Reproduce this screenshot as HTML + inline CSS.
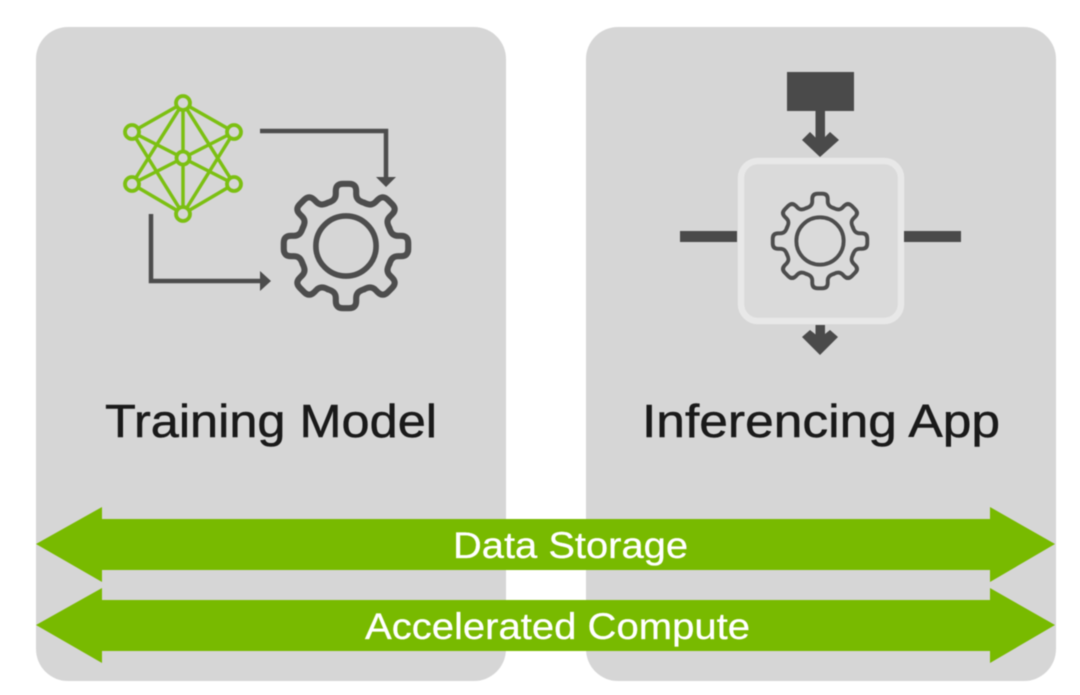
<!DOCTYPE html>
<html>
<head>
<meta charset="utf-8">
<style>
html,body{margin:0;padding:0;background:#fff;width:1080px;height:695px;overflow:hidden}
svg{display:block;filter:blur(0.5px)}
text{font-family:"Liberation Sans",sans-serif}
</style>
</head>
<body>
<svg width="1080" height="695" viewBox="0 0 1080 695" xmlns="http://www.w3.org/2000/svg">
<defs>
<path id="t" d="M-17.6 -42.5C-13 -44 -10 -46 -10 -51L-10 -54Q-10 -61 -3 -61L3 -61Q10 -61 10 -54L10 -51C10 -46 13 -44 17.6 -42.5" fill="none" stroke-linecap="round"/>
<g id="gear">
<use href="#t"/>
<use href="#t" transform="rotate(45)"/>
<use href="#t" transform="rotate(90)"/>
<use href="#t" transform="rotate(135)"/>
<use href="#t" transform="rotate(180)"/>
<use href="#t" transform="rotate(225)"/>
<use href="#t" transform="rotate(270)"/>
<use href="#t" transform="rotate(315)"/>
</g>
</defs>
<rect x="36" y="27" width="470" height="654" rx="32" fill="#d6d6d6"/>
<rect x="586" y="27" width="470" height="654" rx="32" fill="#d6d6d6"/>

<!-- network -->
<g stroke="#7cc012" stroke-width="3.5" fill="none">
<path d="M183 103L132 132M183 103L234 132M183 103L132 184M183 103L234 184M183 103V214M132 132L234 184M234 132L132 184M132 132L183 214M234 132L183 214M132 184L183 214M234 184L183 214"/>
<g fill="#d6d6d6" stroke-width="3.8">
<circle cx="183" cy="103" r="7"/><circle cx="132" cy="132" r="7"/><circle cx="234" cy="132" r="7"/>
<circle cx="132" cy="184" r="7"/><circle cx="234" cy="184" r="7"/><circle cx="183" cy="214" r="7"/>
<circle cx="183" cy="158" r="6.5"/>
</g>
</g>

<!-- left arrows -->
<g stroke="#4d4d4d" stroke-width="4.5" fill="none">
<path d="M260 131H386V178"/>
<path d="M151 214V281H262"/>
</g>
<polygon points="376,177 396,177 386,187" fill="#4d4d4d"/>
<polygon points="260,271 271,281 260,291" fill="#4d4d4d"/>

<!-- left gear -->
<g transform="translate(346 246) scale(1.02)" stroke="#4d4d4d" stroke-width="6">
<use href="#gear"/>
<circle r="29.5" fill="none" stroke-width="5.5"/>
</g>

<!-- right diagram -->
<rect x="787" y="72" width="67" height="39" fill="#4a4a4a"/>
<rect x="815.5" y="111" width="9.5" height="34" fill="#4a4a4a"/>
<polygon points="802,140 810,132 820,142 830,132 839,140 820,157" fill="#4a4a4a"/>
<rect x="741" y="161" width="160" height="160" rx="17" fill="#dadada" stroke="#e8e8e8" stroke-width="6.5"/>
<rect x="680" y="231" width="57" height="11" fill="#4a4a4a"/>
<rect x="904" y="231" width="57" height="11" fill="#4a4a4a"/>
<rect x="815.5" y="325" width="9.5" height="15" fill="#4a4a4a"/>
<polygon points="802,337 810,330 820,338 830,330 838,337 820,355" fill="#4a4a4a"/>

<!-- right gear -->
<g transform="translate(820 241) scale(0.775)" stroke="#4d4d4d" stroke-width="5">
<use href="#gear"/>
<circle r="30.5" fill="none" stroke-width="5"/>
</g>

<!-- titles -->
<text x="105" y="437" font-size="46" fill="#1a1a1a" stroke="#1a1a1a" stroke-width="0.5" textLength="332" lengthAdjust="spacingAndGlyphs">Training Model</text>
<text x="642" y="437" font-size="46" fill="#1a1a1a" stroke="#1a1a1a" stroke-width="0.5" textLength="358" lengthAdjust="spacingAndGlyphs">Inferencing App</text>

<!-- green arrows -->
<polygon points="36,544 102,507 102,519 990,519 990,507 1055,544 990,582 990,570 102,570 102,582" fill="#78ba00"/>
<polygon points="36,625 102,588 102,600 990,600 990,588 1055,625 990,663 990,651 102,651 102,663" fill="#78ba00"/>
<text x="453" y="558" font-size="37" fill="#fff" stroke="#fff" stroke-width="0.3" textLength="235" lengthAdjust="spacingAndGlyphs">Data Storage</text>
<text x="365" y="639" font-size="37" fill="#fff" stroke="#fff" stroke-width="0.3" textLength="385" lengthAdjust="spacingAndGlyphs">Accelerated Compute</text>
</svg>
</body>
</html>
